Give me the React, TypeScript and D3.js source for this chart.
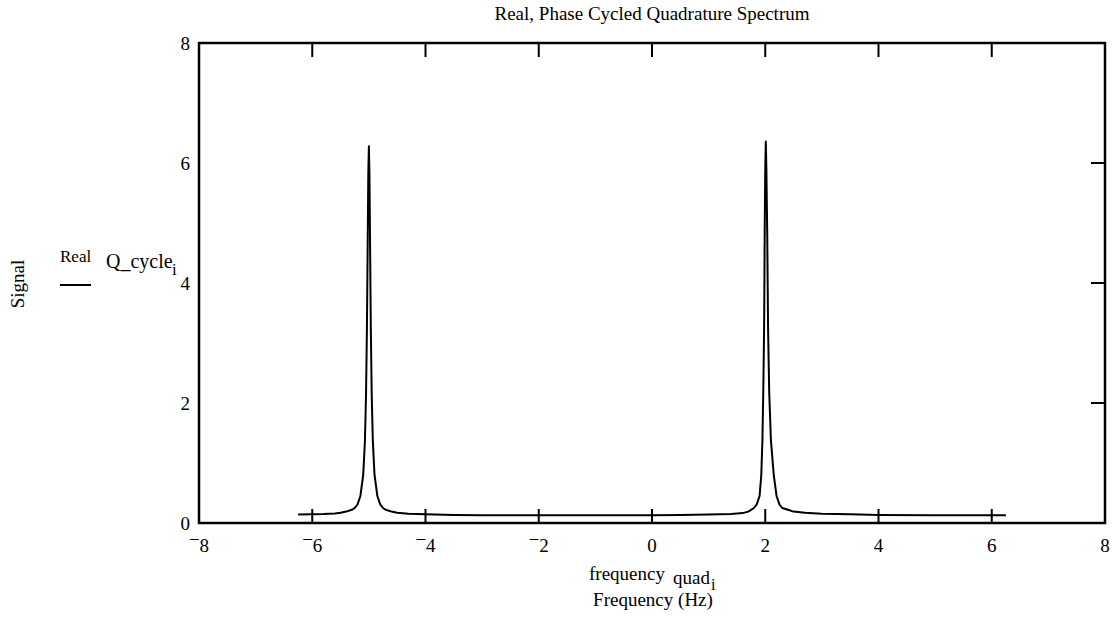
import React from "react";
import * as d3 from "d3";

const freq: number[] = [
  -6.25, -6.0, -5.8, -5.6, -5.5, -5.4, -5.3, -5.25, -5.2, -5.15, -5.1, -5.07, -5.05, -5.035, -5.02, -5.01,
  -5.0,
  -4.99, -4.98, -4.965, -4.95, -4.93, -4.9, -4.85, -4.8, -4.75, -4.7, -4.6, -4.5, -4.3, -4.0, -3.5,
  -3.0, -2.0, -1.0, 0.0, 0.5, 1.0, 1.4, 1.6, 1.7, 1.75, 1.8, 1.85, 1.9, 1.93, 1.95, 1.965, 1.98, 1.99,
  2.0,
  2.01, 2.02, 2.035, 2.05, 2.07, 2.1, 2.15, 2.2, 2.25, 2.3, 2.4, 2.5, 2.7, 3.0, 3.5, 4.0, 5.0, 6.25,
];
const signal: number[] = [
  0.14, 0.145, 0.15, 0.16, 0.17, 0.19, 0.22, 0.25, 0.31, 0.45, 0.8, 1.36, 2.15, 3.2, 4.76, 5.82,
  6.28,
  5.82, 4.76, 3.2, 2.15, 1.36, 0.8, 0.45, 0.31, 0.25, 0.22, 0.19, 0.17, 0.155, 0.145, 0.135,
  0.13, 0.13, 0.13, 0.13, 0.135, 0.14, 0.15, 0.165, 0.19, 0.22, 0.25, 0.31, 0.45, 0.8, 1.38, 2.18, 3.24, 4.82, 5.89,
  6.36,
  5.89, 4.82, 3.24, 2.18, 1.38, 0.8, 0.45, 0.31, 0.25, 0.22, 0.19, 0.17, 0.155, 0.145, 0.135, 0.13, 0.13, 0.13,
];

const xTicks: number[] = [-8, -6, -4, -2, 0, 2, 4, 6, 8];
const yTicks: number[] = [0, 2, 4, 6, 8];
const xDomain: [number, number] = [-8, 8];
const yDomain: [number, number] = [0, 8];

const title = "Real, Phase Cycled Quadrature Spectrum";

const FONT = "'Liberation Serif', 'Times New Roman', serif";

function TickLabel({ v, x, y, anchor }: { v: number; x: number; y: number; anchor: string }) {
  const neg = v < 0;
  return (
    <text x={x} y={y} textAnchor={anchor as any} fontFamily={FONT} fontSize={19} fill="#000">
      {neg ? (
        <>
          <tspan dy={-6}>−</tspan>
          <tspan dy={6}>{Math.abs(v)}</tspan>
        </>
      ) : (
        String(v)
      )}
    </text>
  );
}

export default function App() {
  const W = 1112;
  const H = 622;
  const left = 199;
  const right = 1105;
  const top = 43;
  const bottom = 523;
  const x = d3.scaleLinear().domain(xDomain).range([left, right]);
  const y = d3.scaleLinear().domain(yDomain).range([bottom, top]);
  const pts: [number, number][] = freq.map((f, i) => [f, signal[i]]);
  const line = d3
    .line<[number, number]>()
    .x((d) => x(d[0]))
    .y((d) => y(d[1]));
  const tickLen = 14;
  return (
    <svg
      width={W}
      height={H}
      style={{ position: "absolute", left: 0, top: 0, background: "#fff" }}
    >
      <rect x={0} y={0} width={W} height={H} fill="#fff" />
      <text x={652} y={20} textAnchor="middle" fontFamily={FONT} fontSize={19} fill="#000">
        {title}
      </text>
      {/* ticks */}
      {xTicks.map((t) => (
        <g key={"xt" + t}>
          <line x1={x(t)} x2={x(t)} y1={bottom} y2={bottom - tickLen} stroke="#000" strokeWidth={2} />
          <line x1={x(t)} x2={x(t)} y1={top} y2={top + tickLen} stroke="#000" strokeWidth={2} />
          <TickLabel v={t} x={x(t)} y={bottom + 29} anchor="middle" />
        </g>
      ))}
      {yTicks.map((t) => (
        <g key={"yt" + t}>
          <line x1={right} x2={right - tickLen} y1={y(t)} y2={y(t)} stroke="#000" strokeWidth={2} />
          <TickLabel v={t} x={left - 9} y={y(t) + 7} anchor="end" />
        </g>
      ))}
      <path d={line(pts) ?? ""} fill="none" stroke="#000" strokeWidth={2} strokeLinejoin="round" />
      <rect
        x={left}
        y={top}
        width={right - left}
        height={bottom - top}
        fill="none"
        stroke="#000"
        strokeWidth={2.5}
      />
      {/* y label */}
      <text
        transform={`translate(24,284) rotate(-90)`}
        textAnchor="middle"
        fontFamily={FONT}
        fontSize={19}
        fill="#000"
      >
        Signal
      </text>
      {/* legend */}
      <text x={60} y={262} fontFamily={FONT} fontSize={17} fill="#000">
        Real
      </text>
      <text x={106} y={268} fontFamily={FONT} fontSize={20} fill="#000">
        Q_cycle
      </text>
      <text x={172} y={275} fontFamily={FONT} fontSize={17} fill="#000">
        i
      </text>
      <line x1={60} x2={91} y1={285} y2={285} stroke="#000" strokeWidth={2} />
      {/* x labels */}
      <text x={589} y={580} fontFamily={FONT} fontSize={19} fill="#000">
        frequency
      </text>
      <text x={673} y={584} fontFamily={FONT} fontSize={19} fill="#000">
        quad
      </text>
      <text x={711} y={590} fontFamily={FONT} fontSize={16} fill="#000">
        i
      </text>
      <text x={653} y={606} textAnchor="middle" fontFamily={FONT} fontSize={19} fill="#000">
        Frequency (Hz)
      </text>
    </svg>
  );
}
